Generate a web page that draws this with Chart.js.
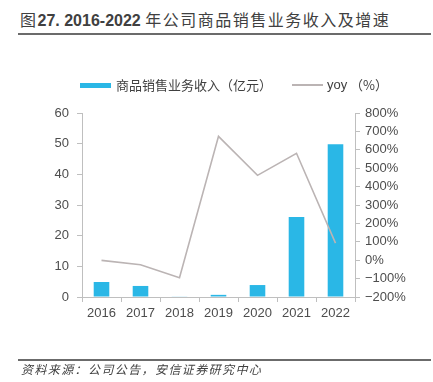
<!DOCTYPE html>
<html>
<head>
<meta charset="utf-8">
<script src="https://cdn.jsdelivr.net/npm/chart.js@4"></script>
<style>
  html, body { margin: 0; padding: 0; background: #fff; }
  body { width: 433px; height: 382px; position: relative; overflow: hidden;
         font-family: "Liberation Sans", "Noto Sans CJK SC", sans-serif; color: #404040; }
  .title { position: absolute; left: 20px; top: 9px; font-size: 16px; font-weight: bold;
           color: #404040; white-space: nowrap; line-height: 20px; }
  .title .cjk { font-family: "Noto Sans CJK SC", sans-serif; font-weight: normal; letter-spacing: 1.5px; }
  .rule { position: absolute; left: 18px; width: 413px; height: 2px; background: #6b6b6b; }
  .source { position: absolute; left: 21px; top: 361px; font-size: 12px; font-style: italic;
            color: #404040; white-space: nowrap; line-height: 16px; letter-spacing: 1.4px;
            font-family: "Noto Sans CJK SC", sans-serif; }
  .legend { position: absolute; top: 76px; left: 80px; font-size: 13px; color: #404040;
            font-family: "Noto Sans CJK SC", sans-serif; white-space: nowrap; line-height: 18px; }
  .legend span { position: absolute; top: 0; }
  .swatch { position: absolute; }
  #wrap { position: absolute; left: 0; top: 0; width: 433px; height: 382px; }
</style>
</head>
<body>
<div class="title"><span class="cjk">图</span>27. 2016-2022 <span class="cjk">年公司商品销售业务收入及增速</span></div>
<div class="rule" style="top:33px"></div>

<div id="wrap"><canvas id="grafica"></canvas></div>

<div class="legend">
  <div class="swatch" style="left:0;top:7px;width:31px;height:5px;background:#2ab7e6"></div>
  <span style="left:36px">商品销售业务收入（亿元）</span>
  <div class="swatch" style="left:212px;top:8px;width:31px;height:2px;background:#bbb4b4"></div>
  <span style="left:247px;font-family:'Liberation Sans',sans-serif">yoy</span>
  <span style="left:270px">（%）</span>
</div>

<div class="rule" style="top:359px"></div>
<div class="source">资料来源：公司公告，安信证券研究中心</div>

<script>
const anios = ['2016', '2017', '2018', '2019', '2020', '2021', '2022'];
const ingresos = [4.9, 3.6, 0.2, 0.7, 3.9, 26.1, 49.8];
const yoy = [-1, -25, -95, 673, 461, 581, 93];
const ticksIzq = [0, 60, 10];
const ticksDer = [-200, 800, 100];

const colorEje = '#bfbfbf';
const colorTexto = '#4d4d4d';
const fuenteTicks = { family: 'Liberation Sans', size: 13 };

function crearGrafica() {
  const ctx = document.getElementById('grafica');

  const data = {
    labels: anios,
    datasets: [
      {
        type: 'line',
        label: 'yoy（%）',
        data: yoy,
        yAxisID: 'y1',
        borderColor: '#bbb4b4',
        borderWidth: 1.6,
        pointRadius: 0,
        tension: 0,
        fill: false
      },
      {
        type: 'bar',
        label: '商品销售业务收入（亿元）',
        data: ingresos,
        yAxisID: 'y',
        backgroundColor: '#2ab7e6',
        categoryPercentage: 1,
        barPercentage: 0.4
      }
    ]
  };

  const options = {
    responsive: false,
    animation: false,
    layout: { padding: { top: 113, left: 0, right: 0, bottom: 0 } },
    plugins: { legend: { display: false }, tooltip: { enabled: false } },
    scales: {
      x: {
        grid: { drawOnChartArea: false, drawTicks: true, tickLength: 5, color: colorEje, offset: true },
        border: { color: colorEje },
        ticks: { color: colorTexto, font: fuenteTicks, padding: 4 },
        afterFit: (s) => { s.height = 85; }
      },
      y: {
        position: 'left',
        min: ticksIzq[0], max: ticksIzq[1],
        grid: { drawOnChartArea: false, tickLength: 5, color: colorEje },
        border: { color: colorEje },
        ticks: { stepSize: ticksIzq[2], autoSkip: false, color: colorTexto, font: fuenteTicks, padding: 8 },
        afterFit: (s) => { s.width = 82; }
      },
      y1: {
        position: 'right',
        min: ticksDer[0], max: ticksDer[1],
        grid: { drawOnChartArea: false, tickLength: 5, color: colorEje },
        border: { color: colorEje },
        ticks: {
          stepSize: ticksDer[2], autoSkip: false, color: colorTexto, font: fuenteTicks, padding: 5,
          callback: (v) => (v < 0 ? '\u2212' + Math.abs(v) : v) + '%'
        },
        afterFit: (s) => { s.width = 78; }
      }
    }
  };

  ctx.width = 433;
  ctx.height = 382;
  new Chart(ctx, { data: data, options: options });
}

crearGrafica();
</script>
</body>
</html>
